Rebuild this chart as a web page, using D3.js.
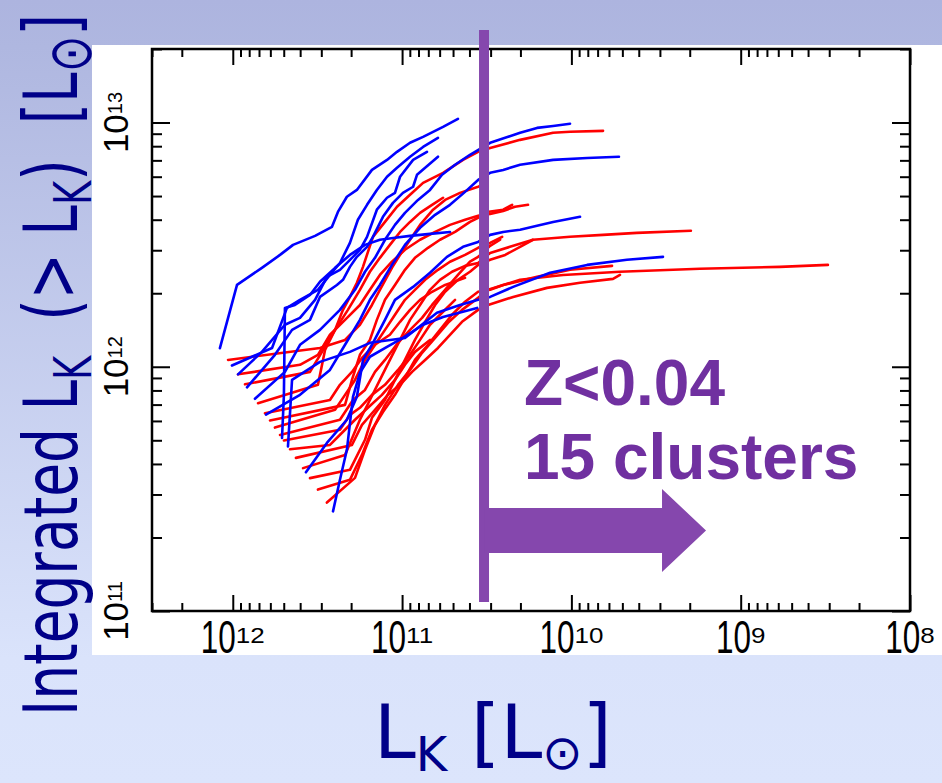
<!DOCTYPE html>
<html>
<head>
<meta charset="utf-8">
<script src="https://cdn.jsdelivr.net/npm/d3@7"></script>
<style>
  html, body { margin: 0; padding: 0; background: #dae3fb; }
  svg { display: block; }
  text { white-space: pre; }
</style>
</head>
<body>
<svg id="chart" width="942" height="783"></svg>
<script>
// Cumulative K-band luminosity curves, one per cluster.
// Each point: [log10 L_K, log10 integrated L_K(>L_K)], both in solar units.
const redCurves = [
  [[11.851,11.851],[11.497,11.926],[11.455,12.069],[11.396,12.151],[11.349,12.233],[11.308,12.286],[11.267,12.344],[11.231,12.409],[11.172,12.532],[11.101,12.593],[11.030,12.655],[10.953,12.704],[10.876,12.753],[10.758,12.794],[10.640,12.847],[10.551,12.880],[10.480,12.896],[10.303,12.929],[10.108,12.958],[10.008,12.962],[9.813,12.966]],
  [[12.028,12.028],[11.485,12.077],[11.337,12.110],[11.249,12.172],[11.178,12.253],[11.131,12.315],[11.060,12.405],[11.012,12.458],[10.953,12.520],[10.894,12.581],[10.817,12.643],[10.746,12.683],[10.658,12.712],[10.551,12.737],[10.504,12.749]],
  [[11.969,11.969],[11.603,12.008],[11.497,12.049],[11.426,12.131],[11.337,12.192],[11.249,12.253],[11.190,12.315],[11.131,12.376],[11.060,12.430],[10.983,12.479],[10.894,12.520],[10.805,12.552],[10.717,12.581],[10.628,12.602],[10.551,12.618],[10.498,12.634],[10.403,12.643],[10.350,12.663]],
  [[11.780,11.780],[11.337,11.844],[11.296,11.946],[11.249,12.049],[11.190,12.110],[11.149,12.192],[11.101,12.274],[11.042,12.335],[10.983,12.397],[10.924,12.446],[10.847,12.487],[10.776,12.520],[10.687,12.552],[10.599,12.593],[10.551,12.610],[10.480,12.626],[10.403,12.638],[10.333,12.655],[10.256,12.663]],
  [[11.751,11.751],[11.396,11.824],[11.337,11.885],[11.278,11.946],[11.219,12.028],[11.160,12.090],[11.101,12.151],[11.042,12.213],[10.983,12.274],[10.924,12.315],[10.864,12.356],[10.788,12.397],[10.717,12.430],[10.628,12.458],[10.551,12.487],[10.480,12.507],[10.409,12.532]],
  [[11.721,11.721],[11.367,11.783],[11.290,11.864],[11.219,11.905],[11.160,11.979],[11.101,12.028],[11.024,12.098],[10.953,12.151],[10.882,12.200],[10.823,12.253],[10.746,12.315],[10.670,12.376],[10.599,12.430],[10.551,12.450],[10.480,12.495],[10.421,12.520]],
  [[11.585,11.585],[11.337,11.639],[11.249,11.783],[11.190,11.864],[11.131,11.946],[11.072,12.028],[11.012,12.110],[10.953,12.192],[10.894,12.253],[10.835,12.315],[10.776,12.356],[10.705,12.389],[10.628,12.413],[10.551,12.425],[10.480,12.466],[10.363,12.491],[10.227,12.520],[10.008,12.532],[9.813,12.540],[9.613,12.548],[9.294,12.557]],
  [[11.544,11.544],[11.308,11.578],[11.219,11.701],[11.178,11.791],[11.101,11.864],[11.042,11.946],[10.983,12.028],[10.924,12.110],[10.864,12.184],[10.805,12.253],[10.746,12.307],[10.670,12.356],[10.599,12.389],[10.551,12.417],[10.480,12.438],[10.391,12.458],[10.303,12.491],[10.227,12.520]],
  [[11.497,11.497],[11.308,11.537],[11.237,11.639],[11.178,11.742],[11.113,11.815],[11.042,11.885],[10.983,11.955],[10.924,12.028],[10.847,12.090],[10.776,12.151],[10.705,12.213],[10.628,12.266],[10.551,12.307],[10.480,12.315],[10.403,12.335],[10.203,12.368],[10.008,12.397],[9.760,12.413]],
  [[11.444,11.444],[11.278,11.545],[11.219,11.660],[11.160,11.762],[11.101,11.844],[11.024,11.926],[10.953,11.987],[10.882,12.057],[10.805,12.118],[10.729,12.180],[10.646,12.233],[10.551,12.282],[10.492,12.315],[10.303,12.356],[10.049,12.376],[9.713,12.389],[9.241,12.401],[8.768,12.409],[8.485,12.417]],
  [[11.627,11.627],[11.296,11.680],[11.237,11.762],[11.160,11.824],[11.084,11.885],[11.012,11.926],[10.941,11.979],[10.864,12.028],[10.788,12.077],[10.717,12.131],[10.646,12.184],[10.551,12.233],[10.492,12.253],[10.344,12.286],[10.144,12.323],[9.949,12.344],[9.754,12.360],[9.713,12.376]],
  [[11.928,11.928],[11.544,11.979],[11.473,12.061],[11.396,12.151],[11.320,12.233],[11.249,12.315],[11.190,12.389],[11.131,12.446],[11.072,12.499],[11.012,12.552],[10.953,12.593],[10.894,12.630],[10.823,12.663],[10.758,12.692]],
  [[11.810,11.810],[11.426,11.864],[11.367,11.926],[11.296,11.979],[11.237,12.036],[11.160,12.090],[11.072,12.131],[11.012,12.184],[10.953,12.233],[10.894,12.274],[10.823,12.307],[10.746,12.335],[10.628,12.364]],
  [[11.698,11.698],[11.367,11.742],[11.308,11.803],[11.249,11.832],[11.178,11.885],[11.101,11.926],[11.024,11.987],[10.953,12.049],[10.894,12.110],[10.835,12.172],[10.764,12.221],[10.687,12.274]],
  [[11.662,11.662],[11.426,11.680],[11.337,11.742],[11.278,11.783],[11.202,11.832],[11.119,11.885],[11.042,11.946],[10.983,12.008],[10.924,12.061],[10.835,12.110]]
];

const blueCurves = [
  [[12.076,12.076],[11.975,12.335],[11.828,12.405],[11.721,12.458],[11.644,12.499],[11.514,12.536],[11.414,12.573],[11.379,12.634],[11.326,12.696],[11.267,12.724],[11.178,12.806],[11.089,12.847],[11.030,12.880],[10.953,12.917],[10.876,12.941],[10.758,12.982],[10.670,13.015]],
  [[12.005,12.005],[11.768,12.077],[11.680,12.241],[11.603,12.274],[11.497,12.315],[11.426,12.376],[11.367,12.425],[11.308,12.507],[11.261,12.602],[11.207,12.663],[11.149,12.724],[11.089,12.778],[11.030,12.815],[10.953,12.860],[10.876,12.900],[10.788,12.937]],
  [[11.969,11.969],[11.828,12.061],[11.692,12.172],[11.603,12.200],[11.514,12.274],[11.444,12.368],[11.367,12.397],[11.290,12.450],[11.249,12.479],[11.207,12.532],[11.149,12.643],[11.089,12.692],[11.042,12.712],[11.012,12.778],[10.935,12.847],[10.853,12.880]],
  [[11.916,11.916],[11.751,12.049],[11.650,12.151],[11.544,12.192],[11.485,12.286],[11.385,12.335],[11.349,12.356],[11.308,12.409],[11.267,12.450],[11.207,12.491],[11.172,12.532],[11.113,12.614],[11.054,12.671],[10.995,12.712],[10.935,12.737],[10.912,12.786],[10.788,12.860]],
  [[11.869,11.869],[11.692,11.979],[11.603,12.090],[11.485,12.151],[11.367,12.233],[11.278,12.315],[11.219,12.389],[11.160,12.446],[11.101,12.520],[11.042,12.581],[10.983,12.630],[10.906,12.683],[10.835,12.724],[10.764,12.786],[10.687,12.827],[10.599,12.868],[10.480,12.917],[10.303,12.958],[10.203,12.978],[10.108,12.986],[10.008,12.995]],
  [[11.804,11.804],[11.603,11.885],[11.426,11.987],[11.337,12.090],[11.249,12.192],[11.190,12.274],[11.131,12.335],[11.060,12.417],[10.983,12.499],[10.894,12.569],[10.805,12.622],[10.717,12.663],[10.628,12.716],[10.551,12.765],[10.480,12.794],[10.403,12.806],[10.303,12.827],[10.108,12.847],[9.907,12.855],[9.719,12.860]],
  [[11.674,11.674],[11.650,11.946],[11.485,12.020],[11.308,12.061],[11.190,12.098],[10.983,12.118],[10.794,12.221],[10.658,12.253],[10.551,12.274],[10.480,12.286],[10.344,12.327],[10.126,12.385],[9.907,12.417],[9.672,12.438],[9.459,12.450]],
  [[11.568,11.568],[11.444,11.688],[11.326,11.783],[11.267,11.877],[11.231,12.028],[11.178,12.090],[11.101,12.192],[11.042,12.274],[10.935,12.327],[10.835,12.385],[10.735,12.450],[10.640,12.491],[10.551,12.511],[10.480,12.540],[10.403,12.552],[10.303,12.561],[10.203,12.577],[10.108,12.593],[9.949,12.614]],
  [[11.408,11.408],[11.367,11.537],[11.326,11.660],[11.290,11.877],[11.249,11.975],[11.190,12.041],[11.089,12.081],[10.995,12.118],[10.876,12.172],[10.758,12.204],[10.557,12.241]],
  [[11.709,11.709],[11.698,11.885],[11.692,12.241],[11.633,12.253],[11.544,12.294],[11.485,12.348],[11.396,12.405],[11.308,12.458],[11.219,12.499],[11.131,12.520],[11.042,12.528],[10.953,12.536],[10.835,12.544],[10.717,12.552]]
];

const xTickExponents = [12, 11, 10, 9, 8];
const yTickExponents = [11, 12, 13];
const xDomain = [3e12, 1e8];
const yDomain = [1e11, 2e13];
const cutLogL = 10.516;              // luminosity limit marked by the vertical bar
const noteLines = ["Z<0.04", "15 clusters"];

const svg = d3.select("#chart");
const W = 942, H = 783;
const frame = { left: 152, right: 910, top: 49, bottom: 611 };

// slide background
const defs = svg.append("defs");
const grad = defs.append("linearGradient").attr("id", "bg").attr("x1", 0).attr("y1", 0).attr("x2", 0).attr("y2", 1);
grad.append("stop").attr("offset", "0").attr("stop-color", "#adb4df");
grad.append("stop").attr("offset", "0.06").attr("stop-color", "#afb7e0");
grad.append("stop").attr("offset", "0.84").attr("stop-color", "#dae3fb");
grad.append("stop").attr("offset", "1").attr("stop-color", "#dce5fc");
svg.append("rect").attr("width", W).attr("height", H).attr("fill", "url(#bg)");

// white panel holding the plot
svg.append("rect").attr("x", 92).attr("y", 45).attr("width", W - 92).attr("height", 610).attr("fill", "#ffffff");

const x = d3.scaleLog().domain(xDomain).range([frame.left, frame.right]);
const y = d3.scaleLog().domain(yDomain).range([frame.bottom, frame.top]);

// tick values: decades and 2..9 sub-decades inside the domain
function logTicks(lo, hi) {
  const major = [], minor = [];
  for (let e = Math.floor(Math.log10(lo)); e <= Math.ceil(Math.log10(hi)); e++) {
    for (let m = 1; m <= 9; m++) {
      const v = m * Math.pow(10, e);
      if (v < lo * 0.9999 || v > hi * 1.0001) continue;
      (m === 1 ? major : minor).push(v);
    }
  }
  return { major, minor };
}
const xt = logTicks(1e8, 3e12);
const yt = logTicks(1e11, 2e13);

function tickAxis(axisFn, scale, values, size, transform) {
  const g = svg.append("g").attr("transform", transform)
    .call(axisFn(scale).tickValues(values).tickSize(size).tickFormat(""));
  g.select(".domain").remove();
  g.selectAll(".tick line").attr("stroke", "#000").attr("stroke-width", 2);
  return g;
}
// inward ticks on all four sides
tickAxis(d3.axisBottom, x, xt.major, -16, `translate(0,${frame.bottom})`);
tickAxis(d3.axisBottom, x, xt.minor, -8, `translate(0,${frame.bottom})`);
tickAxis(d3.axisTop, x, xt.major, -16, `translate(0,${frame.top})`);
tickAxis(d3.axisTop, x, xt.minor, -8, `translate(0,${frame.top})`);
tickAxis(d3.axisLeft, y, yt.major, -18, `translate(${frame.left},0)`);
tickAxis(d3.axisLeft, y, yt.minor, -10, `translate(${frame.left},0)`);
tickAxis(d3.axisRight, y, yt.major, -18, `translate(${frame.right},0)`);
tickAxis(d3.axisRight, y, yt.minor, -10, `translate(${frame.right},0)`);

// frame
svg.append("rect")
  .attr("x", frame.left).attr("y", frame.top)
  .attr("width", frame.right - frame.left).attr("height", frame.bottom - frame.top)
  .attr("fill", "none").attr("stroke", "#000").attr("stroke-width", 2.5);

// curves
const line = d3.line()
  .x(d => x(Math.pow(10, d[0])))
  .y(d => y(Math.pow(10, d[1])));

const curves = svg.append("g").attr("fill", "none").attr("stroke-width", 2.6)
  .attr("stroke-linejoin", "round").attr("stroke-linecap", "round");
curves.selectAll("path.red").data(redCurves).join("path")
  .attr("class", "red").attr("stroke", "#ff0000").attr("d", line);
curves.selectAll("path.blue").data(blueCurves).join("path")
  .attr("class", "blue").attr("stroke", "#0000ff").attr("d", line);

// x tick labels: 10 with exponent
const xLab = svg.append("g").attr("font-family", "'Liberation Sans', Arial, sans-serif").attr("fill", "#000");
xTickExponents.forEach(e => {
  const cx = x(Math.pow(10, e));
  const g = xLab.append("g");
  const base = g.append("text").attr("font-size", 31.5).text("10");
  const sup = g.append("text").attr("font-size", 26).text(String(e));
  const w1 = base.node().getComputedTextLength();
  const w2 = sup.node().getComputedTextLength();
  const x0 = cx - (w1 + w2) / 2;
  base.attr("transform", `translate(${x0},653) scale(1,1.46)`);
  sup.attr("transform", `translate(${x0 + w1},643) scale(1,0.85)`);
});

// y tick labels, rotated
const yLab = svg.append("g").attr("font-family", "'Liberation Sans', Arial, sans-serif").attr("fill", "#000");
yTickExponents.forEach(e => {
  const t = yLab.append("text")
    .attr("transform", `translate(128,${y(Math.pow(10, e))}) rotate(-90)`)
    .attr("text-anchor", "middle").attr("font-size", 35);
  t.append("tspan").text("10");
  t.append("tspan").attr("font-size", 20).attr("dy", -6).text(String(e));
});

// limit marker and arrow
const cx = x(Math.pow(10, cutLogL));
const purple = "#8547ad";
svg.append("rect").attr("x", cx - 5).attr("y", 30).attr("width", 10).attr("height", 572).attr("fill", purple);
const ay = 530.5;
svg.append("path")
  .attr("d", `M${cx},${ay - 22.5} H${cx + 178} V${ay - 41.5} L${cx + 222},${ay} L${cx + 178},${ay + 41.5} V${ay + 22.5} H${cx} Z`)
  .attr("fill", purple);

const note = svg.append("g").attr("font-family", "'Liberation Sans', Arial, sans-serif")
  .attr("font-weight", "bold").attr("font-size", 64).attr("fill", "#7030a0");
note.append("text").attr("x", 524).attr("y", 405).text(noteLines[0]);
note.append("text").attr("x", 524).attr("y", 479).text(noteLines[1]);

// axis titles
const navy = "#000088";
const xt1 = svg.append("text").attr("x", 374).attr("y", 758)
  .attr("font-family", "'DejaVu Sans', sans-serif").attr("font-size", 75).attr("fill", navy);
xt1.append("tspan").text("L");
xt1.append("tspan").attr("font-size", 48).attr("dy", 13).text("K");
xt1.append("tspan").attr("dy", -13).text(" [L");
xt1.append("tspan").attr("font-size", 48).attr("dy", 11).text("\u2299");
xt1.append("tspan").attr("dy", -11).text("]");

const yt1 = svg.append("text").attr("transform", "translate(77,716) rotate(-90) scale(1,1.37)")
  .attr("font-family", "'DejaVu Sans', sans-serif").attr("font-size", 55).attr("fill", navy);
yt1.append("tspan").text("Integrated L");
yt1.append("tspan").attr("font-size", 37).attr("dy", 10).text("K");
yt1.append("tspan").attr("dy", -10).text("  (> L");
yt1.append("tspan").attr("font-size", 37).attr("dy", 10).text("K");
yt1.append("tspan").attr("dy", -10).text(")  [L");
yt1.append("tspan").attr("font-size", 44).attr("dy", 10).text("\u2299");
yt1.append("tspan").attr("dy", -10).text("]");
</script>
</body>
</html>
